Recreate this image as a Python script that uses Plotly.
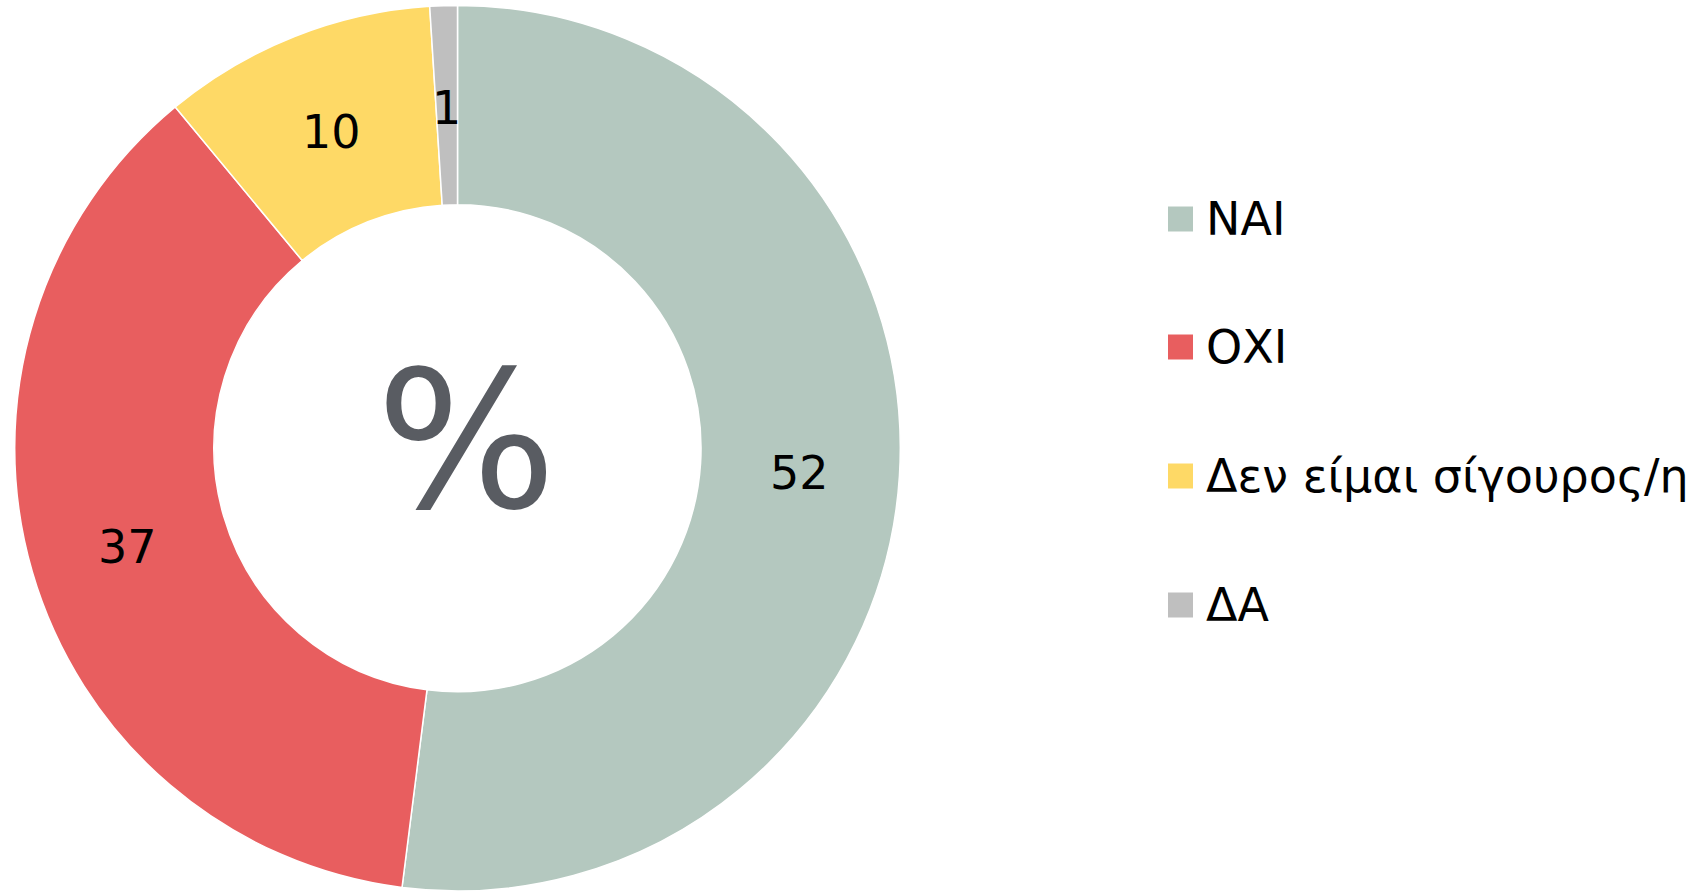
import math
import plotly.graph_objects as go

categories = ["ΝΑΙ", "ΟΧΙ", "Δεν είμαι σίγουρος/η", "ΔΑ"]
values = [52, 37, 10, 1]
colors = ["#B4C8BF", "#E85E5F", "#FED966", "#BFBFBF"]
center_label = "%"

W, H = 1696, 891
FONT = "DejaVu Sans, Noto Sans, sans-serif"
HOLE = 0.55
DOM_X = [14 / W, 901 / W]
DOM_Y = [0, 885.6 / H]

fig = go.Figure(
    go.Pie(
        labels=categories,
        values=values,
        hole=HOLE,
        sort=False,
        direction="clockwise",
        rotation=0,
        marker=dict(colors=colors, line=dict(color="white", width=1.5)),
        textinfo="none",
        domain=dict(x=DOM_X, y=DOM_Y),
        showlegend=False,
        hoverinfo="label+value",
    )
)

# value labels at the middle of the ring, horizontal, computed from the data
cx_px = (DOM_X[0] + DOM_X[1]) / 2 * W
cy_px = (DOM_Y[0] + DOM_Y[1]) / 2 * H
r_out = min((DOM_X[1] - DOM_X[0]) * W, (DOM_Y[1] - DOM_Y[0]) * H) / 2
r_mid = r_out * (1 + HOLE) / 2
total = sum(values)
cum = 0
for v in values:
    ang = 2 * math.pi * (cum + v / 2) / total
    cum += v
    px = cx_px + r_mid * math.sin(ang)
    py = cy_px + r_mid * math.cos(ang)
    fig.add_annotation(
        x=px / W, y=py / H, xref="paper", yref="paper",
        text=str(v), showarrow=False, xanchor="center", yanchor="middle",
        yshift=-3,
        font=dict(size=46, color="black", family=FONT),
    )

# center symbol
fig.add_annotation(
    x=466 / W, y=1 - 441 / H, xref="paper", yref="paper",
    text=center_label, showarrow=False,
    font=dict(size=190, color="#595C62", family=FONT),
    xanchor="center", yanchor="middle",
)

# legend (built from categories / colors)
legend_y = [219, 347, 476, 605]
for cat, col, ly in zip(categories, colors, legend_y):
    fig.add_shape(
        type="rect", xref="paper", yref="paper",
        x0=1168 / W, x1=1193 / W, y0=1 - (ly - 12.5) / H, y1=1 - (ly + 12.5) / H,
        fillcolor=col, line=dict(width=0),
    )
    fig.add_annotation(
        x=1204 / W, y=1 - ly / H, xref="paper", yref="paper",
        text=cat, showarrow=False, xanchor="left", yanchor="middle",
        font=dict(size=46, color="black", family=FONT),
    )

fig.update_layout(
    width=W, height=H,
    margin=dict(l=0, r=0, t=0, b=0),
    paper_bgcolor="white", plot_bgcolor="white",
)

fig.write_html(
    "out.html",
    config={"displayModeBar": False},
    post_script="document.body.style.margin='0';document.body.style.overflow='hidden';",
)
